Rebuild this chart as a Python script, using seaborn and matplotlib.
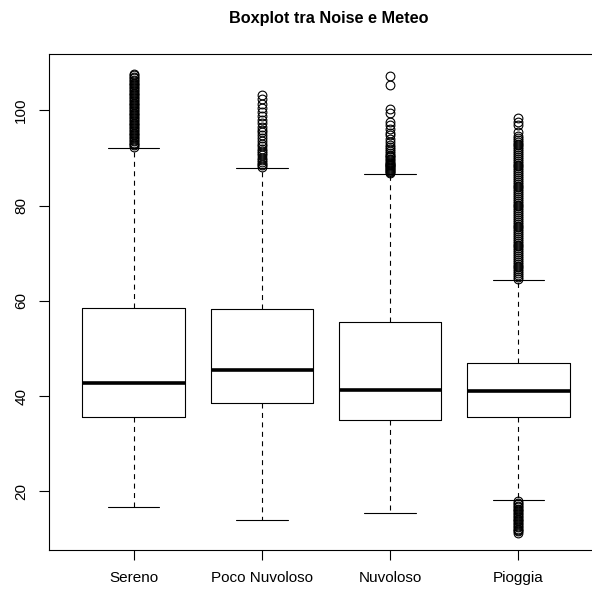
import matplotlib
matplotlib.use("Agg")
import matplotlib.pyplot as plt
import seaborn as sns

categories = ["Sereno", "Poco Nuvoloso", "Nuvoloso", "Pioggia"]
whislo = [16.8, 14.1, 15.4, 18.2]
q1 = [35.6, 38.6, 34.9, 35.6]
med = [42.7, 45.5, 41.3, 41.05]
q3 = [58.4, 58.3, 55.6, 47.0]
whishi = [92.1, 87.9, 86.7, 64.4]

fliers_sereno = [92.3, 92.6, 92.9, 93.2, 93.5, 93.8, 94.1, 94.4, 94.7, 95.0,
                 95.3, 95.6, 95.9, 96.2, 96.5, 96.8, 97.1, 97.4, 97.7, 98.0,
                 98.3, 98.6, 98.9, 99.2, 99.5, 99.8, 100.1, 100.4, 100.7, 101.0,
                 101.3, 101.6, 101.9, 102.2, 102.5, 102.8, 103.1, 103.4, 103.7,
                 104.0, 104.3, 104.6, 104.9, 105.2, 105.5, 105.8, 106.1, 106.4,
                 106.7, 107.0, 107.3, 107.6]
fliers_poco = [88.0, 88.4, 88.8, 89.2, 89.6, 90.0, 90.5, 91.0, 91.4, 91.9,
               92.5, 93.0, 93.6, 94.1, 94.8, 95.4, 95.9, 96.5, 97.3, 98.0,
               98.8, 99.6, 100.4, 101.4, 102.4, 103.1]
fliers_nuvoloso = [86.8, 87.0, 87.2, 87.4, 87.6, 87.8, 88.0, 88.2, 88.4, 88.6,
                   88.8, 89.0, 89.2, 89.5, 89.8, 90.1, 90.4, 90.7, 91.0, 91.4,
                   91.8, 92.3, 92.8, 93.4, 94.0, 94.7, 95.3, 96.0, 96.8, 97.6,
                   99.4, 100.3, 105.3, 107.2]
fliers_pioggia = [11.3, 11.6, 11.9, 12.2, 12.5, 12.8, 13.1, 13.4, 13.7, 14.0,
                  14.3, 14.6, 14.9, 15.2, 15.5, 15.8, 16.1, 16.4, 16.7, 17.0,
                  17.3, 17.6, 17.9,
                  64.6, 65.0, 65.4, 65.8, 66.2, 66.6, 67.0, 67.4, 67.8, 68.2,
                  68.6, 69.0, 69.4, 69.8, 70.2, 70.6, 71.0, 71.4, 71.8, 72.2,
                  72.6, 73.0, 73.4, 73.8, 74.2, 74.6, 75.0, 75.4, 75.8, 76.2,
                  76.6, 77.0, 77.4, 77.8, 78.2, 78.6, 79.0, 79.4, 79.8, 80.2,
                  80.6, 81.0, 81.4, 81.8, 82.2, 82.6, 83.0, 83.4, 83.8, 84.2,
                  84.6, 85.0, 85.4, 85.8, 86.2, 86.6, 87.0, 87.4, 87.8, 88.2,
                  88.6, 89.0, 89.4, 89.8, 90.2, 90.6, 91.0, 91.4, 91.8, 92.2,
                  92.6, 93.0, 93.4, 93.8, 94.2, 94.6, 95.4, 96.8, 97.5, 98.3]
fliers = [fliers_sereno, fliers_poco, fliers_nuvoloso, fliers_pioggia]

yticks = [20, 40, 60, 80, 100]

sns.set_theme(style="ticks")
plt.rcParams["font.family"] = ["Liberation Sans", "DejaVu Sans"]
plt.rcParams["text.color"] = "black"
plt.rcParams["xtick.color"] = "black"
plt.rcParams["ytick.color"] = "black"
plt.rcParams["axes.labelcolor"] = "black"

fig = plt.figure(figsize=(5.92, 5.93), dpi=100)
ax = fig.add_axes([49 / 592, 1 - 550 / 593, 554 / 592, 496 / 593])

stats = []
for i, c in enumerate(categories):
    stats.append(dict(label=c, whislo=whislo[i], q1=q1[i], med=med[i],
                      q3=q3[i], whishi=whishi[i], fliers=fliers[i]))

ax.bxp(stats, positions=range(len(categories)), widths=0.8, capwidths=0.4,
       patch_artist=False, manage_ticks=False,
       boxprops=dict(color="black", linewidth=0.8),
       medianprops=dict(color="black", linewidth=2.6, solid_capstyle="butt"),
       whiskerprops=dict(color="black", linewidth=0.8, linestyle=(0, (4.5, 4))),
       capprops=dict(color="black", linewidth=0.8),
       flierprops=dict(marker="o", markersize=6.3, markerfacecolor="none",
                       markeredgecolor="black", markeredgewidth=0.8))

ax.set_xlim(-0.66, 3.66)
ax.set_ylim(7.7, 111.8)
ax.set_xticks(range(len(categories)))
ax.set_xticklabels(categories, fontsize=11, color="black")
ax.set_yticks(yticks)
ax.set_yticklabels([str(v) for v in yticks], fontsize=11, rotation=90,
                   va="center", color="black")
ax.tick_params(axis="both", length=7, width=0.8, color="black",
               labelcolor="black", pad=8)
for s in ax.spines.values():
    s.set_color("black")
    s.set_linewidth(0.8)
ax.set_xlabel("")
ax.set_ylabel("")

fig.text(329 / 592, 1 - 18 / 593, "Boxplot tra Noise e Meteo", ha="center",
         va="center", fontsize=11.7, fontweight="bold", color="black")

fig.savefig("out.png", dpi=100, facecolor="white")
